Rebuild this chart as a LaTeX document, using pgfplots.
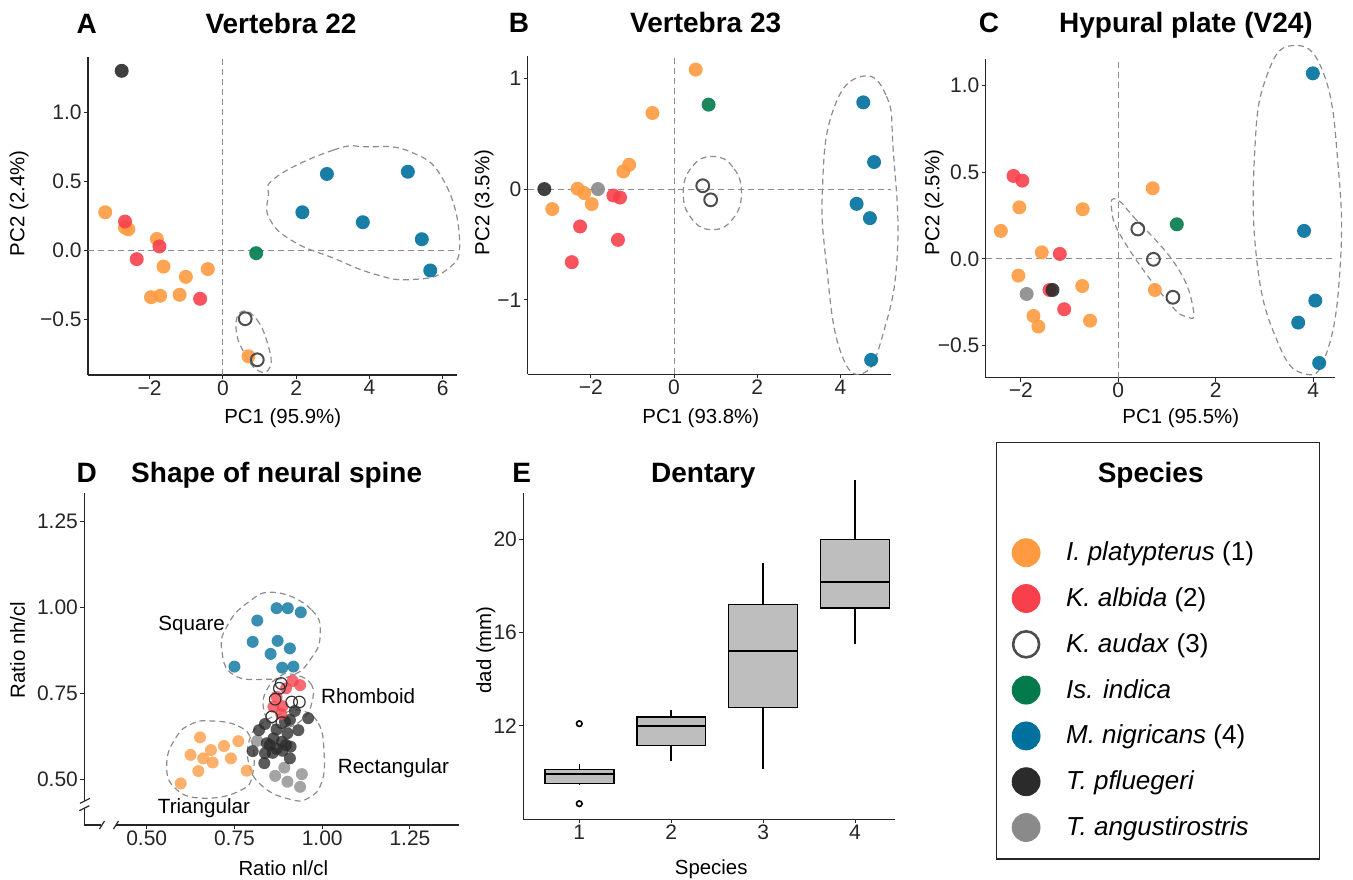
\documentclass[border=0pt]{standalone}
\usepackage{fontspec}
\setmainfont{Liberation Sans}
\usepackage{pgfplots}
\pgfplotsset{compat=1.18}
\usepgfplotslibrary{statistics}
\definecolor{cOr}{HTML}{FF9A40}
\definecolor{cRd}{HTML}{F8404C}
\definecolor{cGr}{HTML}{027A4B}
\definecolor{cBl}{HTML}{00709C}
\definecolor{cBk}{HTML}{2B2B2B}
\definecolor{cGy}{HTML}{8A8A8A}
\definecolor{cOp}{HTML}{4D4D4D}
\definecolor{cHull}{HTML}{8C8C8C}
\definecolor{cBox}{HTML}{BEBEBE}
\newcommand\fT{\fontsize{14}{16}\selectfont\bfseries}
\newcommand\fL{\fontsize{10.2}{12}\selectfont}
\tikzset{hull/.style={draw=cHull, dash pattern=on 3pt off 2pt, line width=0.6pt},
  axl/.style={line width=0.6pt, color=black!85}}
\pgfplotsset{
  ggbase/.style={
    scale only axis, enlargelimits=false, clip=false, anchor=south west,
    axis lines=left, axis line style={-, line width=0.6pt, color=black!85},
    tick align=outside, major tick length=2pt,
    tick style={line width=0.5pt, color=black!85},
    tick label style={font=\fontsize{10.5}{12}\selectfont, text=black!85},
    xticklabel style={inner sep=0.5pt},
    yticklabel style={inner sep=1pt},
  },
  dot/.style={only marks, mark=*, mark size=3.5pt, color=#1, mark options={fill opacity=0.9, draw opacity=0}},
  ddot/.style={only marks, mark=*, mark size=3pt, color=#1, mark options={fill opacity=0.78, draw opacity=0}},
  odot/.style={only marks, mark=o, mark size=3.2pt, color=cOp, mark options={line width=1pt}},
  sodot/.style={only marks, mark=o, mark size=2.9pt, color=black!80, mark options={line width=0.6pt}},
  refl/.style={color=cHull, dash pattern=on 3pt off 2pt, line width=0.5pt, forget plot},
}
\begin{document}
\begin{tikzpicture}
\useasboundingbox (0,0) rectangle (676.5pt,439.5pt);

% ---------------- A
\begin{axis}[ggbase, at={(44pt,252pt)}, width=184.5pt, height=159pt,
  xmin=-3.68, xmax=6.39, ymin=-0.90, ymax=1.40,
  xtick={-2,0,2,4,6}, xticklabels={−2,0,2,4,6},
  ytick={-0.5,0,0.5,1}, yticklabels={−0.5,0.0,0.5,1.0}]
\addplot[refl] coordinates {(0,-0.90) (0,1.40)};
\addplot[refl] coordinates {(-3.68,0) (6.39,0)};
\draw[hull] plot[smooth cycle, tension=0.8] coordinates {(axis cs:1.47,0.534) (axis cs:3.02,0.727) (axis cs:3.93,0.751) (axis cs:5.11,0.715) (axis cs:6.02,0.51) (axis cs:6.46,0.077) (axis cs:6.11,-0.139) (axis cs:5.11,-0.21) (axis cs:4.11,-0.168) (axis cs:3.02,-0.055) (axis cs:1.93,0.065) (axis cs:1.29,0.222) (axis cs:1.24,0.39)};
\draw[hull] plot[smooth cycle, tension=0.8] coordinates {(axis cs:0.52,-0.44) (axis cs:0.93,-0.50) (axis cs:1.24,-0.69) (axis cs:1.29,-0.84) (axis cs:0.97,-0.87) (axis cs:0.56,-0.73) (axis cs:0.36,-0.56)};
\addplot[dot=cOr] coordinates {(-3.21,0.277) (-2.67,0.166) (-2.58,0.154) (-1.80,0.084) (-1.62,-0.116) (-1.01,-0.19) (-0.41,-0.134) (-1.96,-0.337) (-1.71,-0.327) (-1.18,-0.32) (0.70,-0.765)};
\addplot[dot=cRd] coordinates {(-2.67,0.21) (-1.73,0.03) (-2.35,-0.062) (-0.62,-0.349)};
\addplot[odot] coordinates {(0.61,-0.493) (0.94,-0.79)};
\addplot[dot=cGr] coordinates {(0.91,-0.019)};
\addplot[dot=cBl] coordinates {(2.17,0.277) (2.84,0.554) (3.82,0.205) (5.05,0.57) (5.43,0.082) (5.66,-0.144)};
\addplot[dot=cBk] coordinates {(-2.76,1.30)};
\end{axis}

% ---------------- B
\begin{axis}[ggbase, at={(263.85pt,252.35pt)}, width=181.5pt, height=159.15pt,
  xmin=-3.52, xmax=5.21, ymin=-1.67, ymax=1.20,
  xtick={-2,0,2,4}, xticklabels={−2,0,2,4},
  ytick={-1,0,1}, yticklabels={−1,0,1}]
\addplot[refl] coordinates {(0,-1.67) (0,1.20)};
\addplot[refl] coordinates {(-3.52,0) (5.21,0)};
\draw[hull] plot[smooth cycle, tension=0.8] coordinates {(axis cs:1.62,-0.036) (axis cs:1.41,0.20) (axis cs:0.92,0.294) (axis cs:0.43,0.20) (axis cs:0.22,-0.036) (axis cs:0.43,-0.27) (axis cs:0.92,-0.366) (axis cs:1.41,-0.27)};
\draw[hull] plot[smooth cycle, tension=0.8] coordinates {(axis cs:4.51,1.016) (axis cs:5.11,0.836) (axis cs:5.27,0.355) (axis cs:5.37,-0.578) (axis cs:5.03,-1.30) (axis cs:4.55,-1.66) (axis cs:3.99,-1.45) (axis cs:3.67,-0.70) (axis cs:3.57,0.02) (axis cs:3.83,0.716)};
\addplot[dot=cOr] coordinates {(0.52,1.077) (-0.52,0.686) (-1.08,0.219) (-1.22,0.159) (-2.32,0.003) (-2.16,-0.036) (-1.98,-0.135) (-2.93,-0.18)};
\addplot[dot=cRd] coordinates {(-1.46,-0.058) (-1.30,-0.076) (-2.26,-0.337) (-1.35,-0.458) (-2.46,-0.659)};
\addplot[dot=cBk] coordinates {(-3.12,0)};
\addplot[dot=cGy] coordinates {(-1.83,0)};
\addplot[dot=cGr] coordinates {(0.83,0.761)};
\addplot[odot] coordinates {(0.69,0.03) (0.88,-0.097)};
\addplot[dot=cBl] coordinates {(4.55,0.782) (4.81,0.244) (4.39,-0.133) (4.71,-0.262) (4.74,-1.54)};
\end{axis}

% ---------------- C
\begin{axis}[ggbase, at={(492.85pt,250.65pt)}, width=174.65pt, height=159.2pt,
  xmin=-2.72, xmax=4.445, ymin=-0.685, ymax=1.152,
  xtick={-2,0,2,4}, xticklabels={−2,0,2,4},
  ytick={-0.5,0,0.5,1}, yticklabels={−0.5,0.0,0.5,1.0}]
\addplot[refl] coordinates {(0,-0.685) (0,1.152)};
\addplot[refl] coordinates {(-2.72,0) (4.445,0)};
\draw[hull] plot[smooth cycle, tension=0.8] coordinates {(axis cs:3.57,1.231) (axis cs:4.21,1.071) (axis cs:4.51,0.533) (axis cs:4.55,-0.044) (axis cs:4.27,-0.544) (axis cs:3.79,-0.66) (axis cs:3.25,-0.467) (axis cs:2.84,-0.006) (axis cs:2.80,0.629) (axis cs:3.04,1.052)};
\draw[hull] plot[smooth cycle, tension=0.8] coordinates {(axis cs:-0.03,0.344) (axis cs:0.31,0.244) (axis cs:1.20,-0.044) (axis cs:1.54,-0.294) (axis cs:1.40,-0.333) (axis cs:0.99,-0.237) (axis cs:0.10,0.11) (axis cs:-0.14,0.293)};
\addplot[dot=cOr] coordinates {(-2.03,0.298) (-2.41,0.162) (-1.57,0.038) (-2.05,-0.096) (-0.73,0.287) (-0.74,-0.156) (-1.74,-0.329) (-1.64,-0.39) (-0.58,-0.356) (0.705,0.408) (0.75,-0.179)};
\addplot[dot=cRd] coordinates {(-2.15,0.479) (-1.97,0.452) (-1.20,0.029) (-1.11,-0.29) (-1.41,-0.179)};
\addplot[dot=cGy] coordinates {(-1.88,-0.202)};
\addplot[dot=cBk] coordinates {(-1.35,-0.179)};
\addplot[odot] coordinates {(0.40,0.173) (0.72,-0.002) (1.12,-0.221)};
\addplot[dot=cGr] coordinates {(1.20,0.20)};
\addplot[dot=cBl] coordinates {(3.99,1.071) (3.81,0.162) (4.04,-0.24) (3.69,-0.367) (4.12,-0.60)};
\end{axis}

% ---------------- D
\begin{axis}[ggbase, at={(42.15pt,27pt)}, width=187.5pt, height=165.85pt,
  axis line style={draw=none},
  xmin=0.3222, xmax=1.3906, ymin=0.367, ymax=1.3324,
  xtick={0.5,0.75,1,1.25}, xticklabels={0.50,0.75,1.00,1.25},
  ytick={0.5,0.75,1,1.25}, yticklabels={0.50,0.75,1.00,1.25}]
\draw[hull] plot[smooth cycle, tension=0.8] coordinates {(axis cs:0.865,1.044) (axis cs:0.970,0.993) (axis cs:0.994,0.915) (axis cs:0.965,0.847) (axis cs:0.918,0.804) (axis cs:0.842,0.791) (axis cs:0.747,0.804) (axis cs:0.714,0.876) (axis cs:0.728,0.944) (axis cs:0.785,1.012)};
\draw[hull] plot[smooth cycle, tension=0.8] coordinates {(axis cs:0.913,0.806) (axis cs:0.967,0.779) (axis cs:0.970,0.721) (axis cs:0.942,0.673) (axis cs:0.897,0.651) (axis cs:0.853,0.666) (axis cs:0.832,0.711) (axis cs:0.842,0.760) (axis cs:0.875,0.797)};
\draw[hull] plot[smooth cycle, tension=0.8] coordinates {(axis cs:0.942,0.700) (axis cs:0.989,0.663) (axis cs:1.005,0.585) (axis cs:0.999,0.493) (axis cs:0.960,0.445) (axis cs:0.908,0.442) (axis cs:0.832,0.478) (axis cs:0.792,0.542) (axis cs:0.794,0.619) (axis cs:0.832,0.666) (axis cs:0.889,0.692)};
\draw[hull] plot[smooth cycle, tension=0.8] coordinates {(axis cs:0.680,0.670) (axis cs:0.761,0.655) (axis cs:0.799,0.609) (axis cs:0.802,0.517) (axis cs:0.766,0.467) (axis cs:0.661,0.445) (axis cs:0.581,0.474) (axis cs:0.557,0.547) (axis cs:0.585,0.624) (axis cs:0.628,0.661)};
\addplot[ddot=cOr] coordinates {(0.652,0.622) (0.625,0.571) (0.661,0.561) (0.683,0.585) (0.688,0.549) (0.720,0.597) (0.761,0.611) (0.740,0.561) (0.785,0.525) (0.647,0.524) (0.597,0.488)};
\addplot[ddot=cBl] coordinates {(0.870,0.998) (0.902,0.998) (0.939,0.986) (0.815,0.962) (0.802,0.900) (0.873,0.903) (0.908,0.881) (0.853,0.865) (0.750,0.828) (0.886,0.825) (0.918,0.828)};
\addplot[ddot=cGy] coordinates {(0.815,0.612) (0.866,0.510) (0.892,0.534) (0.901,0.493) (0.942,0.515) (0.937,0.478)};
\addplot[ddot=cBk] coordinates {(0.922,0.699) (0.908,0.673) (0.960,0.678) (0.837,0.661) (0.820,0.643) (0.870,0.645) (0.932,0.643) (0.901,0.634) (0.861,0.619) (0.842,0.605) (0.885,0.609) (0.897,0.600) (0.910,0.595) (0.802,0.582) (0.837,0.576) (0.859,0.577) (0.887,0.583) (0.908,0.561) (0.835,0.547) (0.870,0.589) (0.851,0.600) (0.894,0.668)};
\addplot[ddot=cRd] coordinates {(0.916,0.786) (0.937,0.774) (0.897,0.765) (0.870,0.740) (0.861,0.711) (0.887,0.713) (0.883,0.690)};
\addplot[sodot] coordinates {(0.883,0.779) (0.878,0.765) (0.866,0.733) (0.913,0.725) (0.935,0.725) (0.856,0.682) (0.885,0.665)};
\node[font=\fontsize{10.3}{12}\selectfont] at (axis cs:0.628,0.949) {Square};
\node[font=\fontsize{10.3}{12}\selectfont] at (axis cs:1.131,0.742) {Rhomboid};
\node[font=\fontsize{10.3}{12}\selectfont] at (axis cs:1.203,0.532) {Rectangular};
\node[font=\fontsize{10.3}{12}\selectfont] at (axis cs:0.663,0.416) {Triangular};
\end{axis}

% ---------------- E
\begin{axis}[ggbase, at={(261.65pt,29.85pt)}, width=185.85pt, height=163.3pt,
  xmin=0.391, xmax=4.435, ymin=8, ymax=22,
  xtick={1,2,3,4}, xticklabels={1,2,3,4},
  ytick={12,16,20}, yticklabels={12,16,20},
  boxplot/draw direction=y,
  boxplot/whisker extend=0,
  boxplot/box extend=0.75,
  boxplot/every box/.style={draw=black, fill=cBox, line width=0.8pt},
  boxplot/every median/.style={draw=black, line width=0.8pt},
  boxplot/every whisker/.style={draw=black, line width=0.7pt}]
\addplot[boxplot prepared={draw position=1, lower whisker=9.49, lower quartile=9.53, median=9.93, upper quartile=10.13, upper whisker=10.39}, black, mark=o, mark size=1.4pt, mark options={line width=0.8pt}] coordinates {(1,12.1) (1,8.67)};
\addplot[boxplot prepared={draw position=2, lower whisker=10.5, lower quartile=11.17, median=12.0, upper quartile=12.39, upper whisker=12.67}, black] coordinates {};
\addplot[boxplot prepared={draw position=3, lower whisker=10.17, lower quartile=12.79, median=15.21, upper quartile=17.21, upper whisker=19.0}, black] coordinates {};
\addplot[boxplot prepared={draw position=4, lower whisker=15.5, lower quartile=17.06, median=18.17, upper quartile=20.0, upper whisker=22.53}, black] coordinates {};
\end{axis}

% ---------------- Legend
\begin{axis}[hide axis, scale only axis, anchor=south west, at={(498.35pt,10pt)},
  width=161.3pt, height=208.15pt, xmin=0, xmax=1, ymin=0, ymax=1,
  legend cell align=left,
  legend style={at={(0.0465,0.7917)}, anchor=north west, draw=none, fill=none,
    inner sep=0pt, row sep=0pt, font=\fontsize{13}{15}\selectfont,
    nodes={inner sep=0pt, minimum height=22.9pt}, /tikz/column sep=13pt}]
\addlegendimage{only marks, mark=*, mark size=7pt, color=cOr}
\addlegendentry{\textit{I. platypterus} (1)}
\addlegendimage{only marks, mark=*, mark size=7pt, color=cRd}
\addlegendentry{\textit{K. albida} (2)}
\addlegendimage{only marks, mark=o, mark size=6.5pt, color=cOp, mark options={line width=1.3pt}}
\addlegendentry{\textit{K. audax} (3)}
\addlegendimage{only marks, mark=*, mark size=7pt, color=cGr}
\addlegendentry{\textit{Is. indica}}
\addlegendimage{only marks, mark=*, mark size=7pt, color=cBl}
\addlegendentry{\textit{M. nigricans} (4)}
\addlegendimage{only marks, mark=*, mark size=7pt, color=cBk}
\addlegendentry{\textit{T. pfluegeri}}
\addlegendimage{only marks, mark=*, mark size=7pt, color=cGy}
\addlegendentry{\textit{T. angustirostris}}
\end{axis}

% ---------------- annotations (pixel coordinates)
\begin{scope}[shift={(0pt,439.5pt)}, x=0.5pt, y=-0.5pt]
% legend frame
\draw[line width=0.7pt, color=black!85] (996.7,442.7) rectangle (1319.3,859);
\node[font=\fT, anchor=base] at (1150.7,482.3) {Species};
% titles
\node[font=\fT, anchor=base] at (86.7,33.3) {A};
\node[font=\fT, anchor=base] at (281,33.3) {Vertebra 22};
\node[font=\fT, anchor=base] at (519,32.7) {B};
\node[font=\fT, anchor=base] at (705.7,32.7) {Vertebra 23};
\node[font=\fT, anchor=base] at (989,32.7) {C};
\node[font=\fT, anchor=base] at (1186,32.7) {Hypural plate (V24)};
\node[font=\fT, anchor=base] at (86.7,482.3) {D};
\node[font=\fT, anchor=base] at (276.7,482.3) {Shape of neural spine};
\node[font=\fT, anchor=base] at (521.7,482.3) {E};
\node[font=\fT, anchor=base] at (703.3,482.3) {Dentary};
% axis labels
\node[font=\fL, anchor=base] at (282.7,424) {PC1 (95.9\%)};
\node[font=\fL, anchor=base] at (700.8,424) {PC1 (93.8\%)};
\node[font=\fL, anchor=base] at (1180.8,424) {PC1 (95.5\%)};
\node[font=\fL, rotate=90] at (19,203.3) {PC2 (2.4\%)};
\node[font=\fL, rotate=90] at (484,202.5) {PC2 (3.5\%)};
\node[font=\fL, rotate=90] at (934,202.5) {PC2 (2.5\%)};
\node[font=\fL, rotate=90] at (17.5,650) {Ratio nh/cl};
\node[font=\fL, anchor=base] at (283.3,875) {Ratio nl/cl};
\node[font=\fL, rotate=90] at (485.8,650) {dad (mm)};
\node[font=\fL, anchor=base] at (711.2,874) {Species};
% D broken axes
\draw[axl] (84.3,493.3) -- (84.3,800.8);
\draw[axl] (84.3,808.3) -- (84.3,825) -- (101,825);
\draw[axl] (116,825) -- (459.3,825);
\draw[axl] (80,803.3) -- (90,798.3);
\draw[axl] (79.3,810.7) -- (89.3,805.7);
\draw[axl] (99.5,829) -- (104.5,821);
\draw[axl] (113.5,829) -- (118.5,821);
\end{scope}
\end{tikzpicture}
\end{document}
